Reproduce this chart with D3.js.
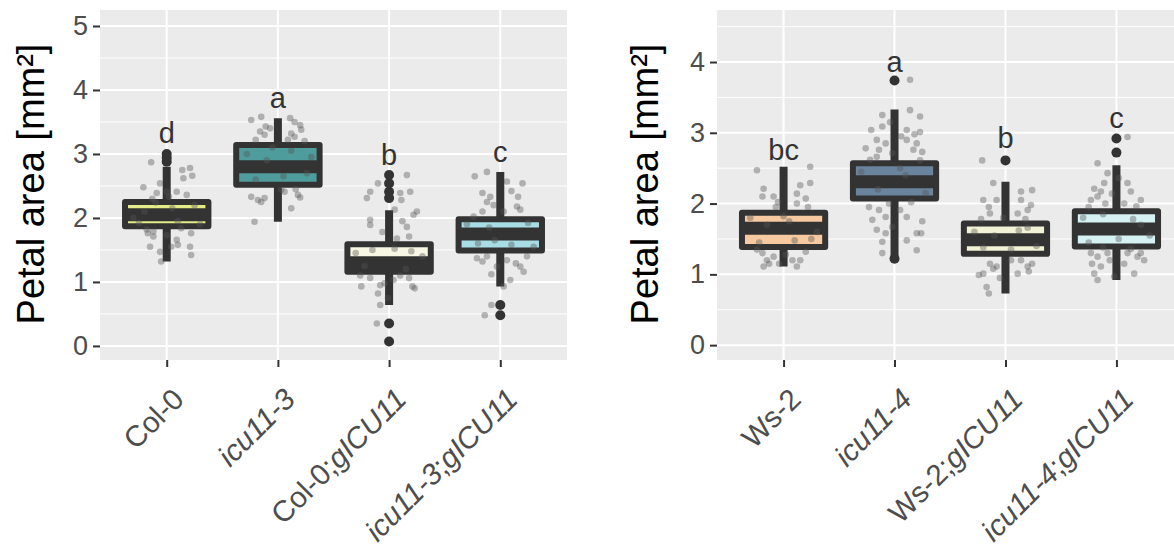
<!DOCTYPE html>
<html>
<head>
<meta charset="utf-8">
<script src="https://cdn.jsdelivr.net/npm/d3@7"></script>
<style>
  body { margin: 0; background: #fff; }
  svg { display: block; font-family: "Liberation Sans", Arial, sans-serif; }
</style>
</head>
<body>
<div id="chart"></div>
<script>
// ---- left panel (Col-0 background) ----
var leftCats = ["Col-0", "icu11-3", "Col-0;gICU11", "icu11-3;gICU11"];
var leftQ1 = [1.87, 2.52, 1.16, 1.49];
var leftMedian = [2.05, 2.80, 1.30, 1.75];
var leftQ3 = [2.25, 3.14, 1.59, 1.98];
var leftLow = [1.32, 1.94, 0.64, 0.93];
var leftHigh = [2.80, 3.56, 2.12, 2.72];
var leftOutliers = [[2.88, 2.94, 3.00], [], [2.31, 2.41, 2.54, 2.67, 0.35, 0.07], [0.64, 0.48]];
var leftLetters = ["d", "a", "b", "c"];
var leftLetterY = [3.33, 3.87, 2.98, 3.03];
var leftFills = ["#e4ec88", "#4f9c9c", "#f7f7e4", "#a8dde6"];
var leftTicks = [0, 1, 2, 3, 4, 5];
// jittered raw points: [offset in category units, value]
var leftPoints = [
  [[-0.14, 2.87], [0.14, 2.75], [0.21, 2.78], [0.23, 2.66], [0.15, 2.62], [-0.06, 2.54], [-0.21, 2.48], [-0.09, 2.39],
   [0.00, 2.41], [0.09, 2.41], [0.18, 2.36], [-0.17, 1.76], [-0.12, 1.71], [0.00, 1.73], [0.09, 1.66], [0.22, 1.76],
   [-0.15, 1.55], [-0.06, 1.47], [0.04, 1.55], [0.21, 1.55], [0.22, 1.42], [-0.05, 1.32], [-0.12, 1.79], [0.10, 1.58],
   [-0.30, 2.00], [-0.20, 2.10], [0.10, 1.95], [0.25, 2.20], [0.30, 1.90], [-0.10, 2.24], [0.05, 2.15], [-0.25, 1.92],
   [-0.18, 1.82], [0.13, 1.84], [0.02, 2.33], [-0.13, 2.30]],
  [[-0.24, 3.53], [-0.15, 3.58], [-0.11, 3.43], [-0.16, 3.35], [-0.12, 3.30], [0.11, 3.56], [0.15, 3.50], [0.20, 3.45],
   [0.21, 3.38], [0.12, 3.32], [0.09, 3.22], [0.15, 3.27], [-0.24, 2.33], [-0.18, 2.28], [-0.15, 2.25], [-0.12, 2.31],
   [0.06, 2.41], [0.18, 2.36], [0.20, 2.32], [0.12, 2.15], [-0.21, 1.94], [0.03, 2.44],
   [-0.28, 3.00], [-0.10, 2.90], [0.12, 3.05], [0.26, 2.70], [-0.20, 2.60], [0.05, 2.65], [0.30, 2.95], [-0.05, 3.10],
   [-0.07, 3.40], [0.24, 3.20], [-0.20, 3.22], [0.16, 2.45]],
  [[0.16, 2.67], [-0.10, 2.54], [-0.17, 2.41], [-0.20, 2.31], [0.19, 2.41], [0.10, 2.39], [0.11, 2.28], [0.05, 2.13],
   [0.25, 2.10], [0.22, 2.05], [-0.17, 1.97], [-0.17, 1.89], [0.16, 1.86], [0.07, 1.68], [0.18, 1.71],
   [-0.25, 0.93], [-0.17, 1.06], [-0.08, 0.95], [-0.04, 0.98], [0.04, 1.03], [0.18, 1.06], [0.21, 0.93], [0.23, 0.90],
   [-0.10, 0.82], [-0.08, 0.64], [-0.01, 0.75], [-0.11, 0.35],
   [-0.30, 1.45], [-0.15, 1.50], [0.20, 1.48], [0.30, 1.40], [0.05, 1.52], [-0.22, 1.25], [0.15, 1.20],
   [-0.06, 1.78], [0.12, 1.95], [-0.26, 1.10], [0.10, 1.10]],
  [[-0.23, 2.65], [-0.12, 2.72], [0.20, 2.54], [0.06, 2.57], [-0.16, 2.39], [-0.09, 2.33], [-0.12, 2.25], [-0.06, 2.20],
   [0.16, 2.33], [0.18, 2.13], [0.03, 2.10], [-0.16, 2.10], [0.15, 2.18],
   [-0.21, 1.37], [-0.16, 1.32], [-0.12, 1.40], [-0.03, 1.24], [0.06, 1.34], [0.14, 1.29], [0.18, 1.24], [0.21, 1.16],
   [0.09, 1.03], [0.03, 0.93], [-0.14, 0.48], [-0.08, 0.64],
   [-0.30, 1.90], [-0.10, 1.85], [0.25, 1.92], [0.30, 1.55], [-0.20, 1.60], [0.10, 1.58], [-0.05, 1.65],
   [-0.24, 2.02], [0.10, 2.42], [0.24, 1.40], [-0.08, 1.12]]
];

// ---- right panel (Ws-2 background) ----
var rightCats = ["Ws-2", "icu11-4", "Ws-2;gICU11", "icu11-4;gICU11"];
var rightQ1 = [1.385, 2.07, 1.29, 1.395];
var rightMedian = [1.65, 2.31, 1.49, 1.64];
var rightQ3 = [1.87, 2.57, 1.72, 1.89];
var rightLow = [1.11, 1.24, 0.73, 0.92];
var rightHigh = [2.52, 3.33, 2.31, 2.54];
var rightOutliers = [[], [3.74, 1.22], [2.61], [2.92, 2.72]];
var rightLetters = ["bc", "a", "b", "c"];
var rightLetterY = [2.76, 4.00, 2.93, 3.21];
var rightFills = ["#f6c9a0", "#6b849e", "#f2f2d6", "#d6f1f3"];
var rightTicks = [0, 1, 2, 3, 4];
var rightPoints = [
  [[-0.24, 2.47], [0.24, 2.52], [-0.18, 2.21], [-0.19, 2.10], [-0.09, 2.10], [0.15, 2.26], [0.24, 2.29], [0.12, 2.14],
   [0.20, 2.07], [-0.07, 1.95], [0.12, 2.00], [-0.19, 1.30], [-0.15, 1.20], [-0.09, 1.25], [-0.18, 1.11], [0.08, 1.20],
   [0.15, 1.20], [0.12, 1.11], [-0.04, 1.15], [-0.13, 1.15],
   [-0.30, 1.80], [-0.15, 1.70], [0.05, 1.75], [0.25, 1.50], [0.30, 1.60], [-0.22, 1.45], [0.10, 1.48], [0.00, 1.82],
   [-0.05, 2.02], [0.22, 1.95], [-0.24, 1.35], [0.20, 1.32], [0.02, 1.28]],
  [[0.14, 3.75], [-0.11, 3.25], [0.14, 3.32], [0.23, 3.23], [-0.21, 3.04], [-0.11, 3.09], [0.11, 3.04], [0.23, 3.01],
   [-0.16, 2.90], [-0.08, 2.85], [0.11, 2.90], [0.20, 2.85], [-0.14, 2.76], [-0.02, 2.71], [0.17, 2.76], [0.25, 2.73],
   [-0.16, 2.66], [0.23, 2.61], [-0.23, 1.95], [-0.14, 1.91], [-0.20, 1.77], [-0.08, 1.81], [0.05, 1.91], [0.11, 1.81],
   [-0.16, 1.63], [-0.08, 1.58], [0.20, 1.58], [0.24, 1.58], [-0.11, 1.46], [0.11, 1.48], [0.20, 1.34], [-0.11, 1.30],
   [-0.02, 1.67], [-0.30, 2.45], [-0.15, 2.20], [0.10, 2.40], [0.28, 2.15], [0.05, 2.50],
   [-0.22, 2.62], [0.06, 2.95], [-0.04, 3.15], [0.18, 2.98], [-0.26, 2.78], [0.15, 2.02], [-0.05, 2.00], [0.25, 1.75]],
  [[-0.21, 2.61], [-0.11, 2.29], [-0.20, 2.05], [-0.15, 1.95], [-0.08, 2.05], [0.14, 2.17], [0.24, 2.19], [0.14, 2.05],
   [0.20, 1.91], [-0.14, 1.86], [0.11, 1.86], [0.23, 1.98], [-0.14, 1.15], [-0.11, 1.08], [-0.20, 1.01], [-0.24, 0.99],
   [0.14, 1.20], [0.20, 1.11], [0.24, 1.15], [0.11, 1.01], [0.21, 1.04], [-0.17, 0.82], [-0.15, 0.73], [-0.08, 1.11],
   [-0.28, 1.60], [-0.10, 1.55], [0.12, 1.62], [0.28, 1.40], [0.05, 1.35], [-0.20, 1.38], [0.20, 1.66],
   [-0.02, 1.80], [0.18, 1.78], [-0.22, 1.78], [0.05, 1.20], [-0.05, 0.95]],
  [[0.10, 2.94], [-0.17, 2.57], [-0.08, 2.43], [-0.20, 2.21], [-0.11, 2.29], [-0.14, 2.17], [-0.04, 2.14], [0.10, 2.29],
   [0.13, 2.17], [0.22, 2.05], [-0.23, 2.05], [-0.17, 2.10], [-0.10, 2.00], [0.07, 2.00],
   [-0.23, 1.30], [-0.17, 1.25], [-0.08, 1.30], [0.10, 1.30], [0.19, 1.25], [0.25, 1.20], [-0.22, 1.15], [-0.14, 1.11],
   [0.07, 1.15], [0.16, 1.01], [-0.20, 1.01], [-0.17, 0.92], [-0.02, 0.97], [0.22, 1.30],
   [-0.30, 1.80], [-0.12, 1.85], [0.15, 1.78], [0.30, 1.55], [0.02, 1.50], [-0.25, 1.45], [0.22, 1.70],
   [-0.25, 1.95], [0.18, 1.96], [0.02, 2.36], [-0.06, 1.20], [0.13, 1.36], [-0.12, 1.38]]
];

var width = 1174, height = 550;
var svg = d3.select('#chart').append('svg')
    .attr('width', width)
    .attr('height', height);
svg.append('rect').attr('width', width).attr('height', height).attr('fill', '#fff');

function drawPanel(p) {
    var g = svg.append('g');
    // ggplot expands a discrete axis by 0.6 of a step on each side
    var xScale = d3.scalePoint().domain(p.cats).range([p.left, p.right]).padding(0.6);
    var step = xScale.step();
    var yScale = d3.scaleLinear().domain(p.yDomain).range([p.bottom, p.top]);

    // panel background
    g.append('rect')
        .attr('x', p.left).attr('y', p.top)
        .attr('width', p.right - p.left).attr('height', p.bottom - p.top)
        .attr('fill', '#ebebeb');

    // minor grid
    var minor = d3.range(Math.ceil(p.yDomain[0] * 2) / 2, p.yDomain[1], 0.5).filter(function (v) { return v % 1 !== 0; });
    g.selectAll('.minor').data(minor).enter().append('line')
        .attr('x1', p.left).attr('x2', p.right)
        .attr('y1', function (d) { return yScale(d); }).attr('y2', function (d) { return yScale(d); })
        .attr('stroke', '#fff').attr('stroke-width', 1);
    // major grid
    g.selectAll('.major').data(p.ticks).enter().append('line')
        .attr('x1', p.left).attr('x2', p.right)
        .attr('y1', function (d) { return yScale(d); }).attr('y2', function (d) { return yScale(d); })
        .attr('stroke', '#fff').attr('stroke-width', 2);
    g.selectAll('.vgrid').data(p.cats).enter().append('line')
        .attr('x1', function (d) { return xScale(d); }).attr('x2', function (d) { return xScale(d); })
        .attr('y1', p.top).attr('y2', p.bottom)
        .attr('stroke', '#fff').attr('stroke-width', 2);

    var bw = step * 0.75;
    var box = g.selectAll('.box').data(p.cats).enter().append('g');
    // whiskers
    box.append('line')
        .attr('x1', function (d) { return xScale(d); }).attr('x2', function (d) { return xScale(d); })
        .attr('y1', function (d, i) { return yScale(p.low[i]); })
        .attr('y2', function (d, i) { return yScale(p.high[i]); })
        .attr('stroke', '#333').attr('stroke-width', 8);
    // outliers
    p.cats.forEach(function (c, i) {
        g.selectAll(null).data(p.outliers[i]).enter().append('circle')
            .attr('cx', xScale(c)).attr('cy', function (d) { return yScale(d); })
            .attr('r', 5).attr('fill', '#333');
    });
    // box
    box.append('rect')
        .attr('x', function (d) { return xScale(d) - bw / 2; })
        .attr('y', function (d, i) { return yScale(p.q3[i]); })
        .attr('width', bw)
        .attr('height', function (d, i) { return yScale(p.q1[i]) - yScale(p.q3[i]); })
        .attr('fill', function (d, i) { return p.fills[i]; })
        .attr('stroke', '#333').attr('stroke-width', 6).attr('stroke-linejoin', 'round');
    // median
    box.append('line')
        .attr('x1', function (d) { return xScale(d) - bw / 2; })
        .attr('x2', function (d) { return xScale(d) + bw / 2; })
        .attr('y1', function (d, i) { return yScale(p.median[i]); })
        .attr('y2', function (d, i) { return yScale(p.median[i]); })
        .attr('stroke', '#333').attr('stroke-width', 13);

    // jittered points on top
    p.cats.forEach(function (c, i) {
        g.selectAll(null).data(p.points[i]).enter().append('circle')
            .attr('cx', function (d) { return xScale(c) + d[0] * step; })
            .attr('cy', function (d) { return yScale(d[1]); })
            .attr('r', 3.3).attr('fill', '#555').attr('fill-opacity', 0.4);
    });

    // significance letters
    g.selectAll('.letter').data(p.cats).enter().append('text')
        .attr('x', function (d) { return xScale(d); })
        .attr('y', function (d, i) { return yScale(p.letterY[i]); })
        .attr('text-anchor', 'middle').attr('dominant-baseline', 'central')
        .attr('font-size', 29).attr('fill', '#333')
        .text(function (d, i) { return p.letters[i]; });

    // y axis
    var yAxis = g.append('g')
        .attr('transform', 'translate(' + p.left + ',0)')
        .call(d3.axisLeft(yScale).tickValues(p.ticks).tickSize(7).tickPadding(5).tickFormat(d3.format('d')));
    yAxis.select('.domain').remove();
    yAxis.selectAll('line').attr('stroke', '#333').attr('stroke-width', 2);
    yAxis.selectAll('text').attr('font-size', 27).attr('fill', '#4d4d4d')
        .attr('font-family', '"Liberation Sans", Arial, sans-serif');

    // x axis ticks
    var xAxis = g.append('g')
        .attr('transform', 'translate(0,' + p.bottom + ')')
        .call(d3.axisBottom(xScale).tickSize(7).tickFormat(''));
    xAxis.select('.domain').remove();
    xAxis.selectAll('line').attr('stroke', '#333').attr('stroke-width', 2);

    // rotated category labels, italic for mutant / transgene names
    p.cats.forEach(function (c) {
        var ax = xScale(c) + 4, ay = p.bottom + 26;
        var t = g.append('text')
            .attr('x', ax).attr('y', ay).attr('dy', '0.72em')
            .attr('text-anchor', 'end')
            .attr('transform', 'rotate(-45,' + ax + ',' + ay + ')')
            .attr('font-size', 29.5).attr('fill', '#4d4d4d');
        c.split(';').forEach(function (part, k) {
            if (k > 0) t.append('tspan').text(';');
            t.append('tspan').attr('font-style', /^(icu|g)/.test(part) ? 'italic' : 'normal').text(part);
        });
    });

    // y title
    var tx = p.titleX, ty = (p.top + p.bottom) / 2 - 1;
    g.append('text')
        .attr('transform', 'translate(' + tx + ',' + ty + ') rotate(-90)')
        .attr('text-anchor', 'middle').attr('dominant-baseline', 'central')
        .attr('font-size', 38).attr('fill', '#000')
        .text('Petal area [mm²]');
}

drawPanel({
    cats: leftCats, q1: leftQ1, median: leftMedian, q3: leftQ3, low: leftLow, high: leftHigh,
    outliers: leftOutliers, letters: leftLetters, letterY: leftLetterY, fills: leftFills,
    ticks: leftTicks, points: leftPoints,
    left: 100, right: 567, top: 10, bottom: 360, yDomain: [-0.22, 5.25], titleX: 31
});
drawPanel({
    cats: rightCats, q1: rightQ1, median: rightMedian, q3: rightQ3, low: rightLow, high: rightHigh,
    outliers: rightOutliers, letters: rightLetters, letterY: rightLetterY, fills: rightFills,
    ticks: rightTicks, points: rightPoints,
    left: 717, right: 1183, top: 10, bottom: 360, yDomain: [-0.21, 4.735], titleX: 645
});
</script>
</body>
</html>
